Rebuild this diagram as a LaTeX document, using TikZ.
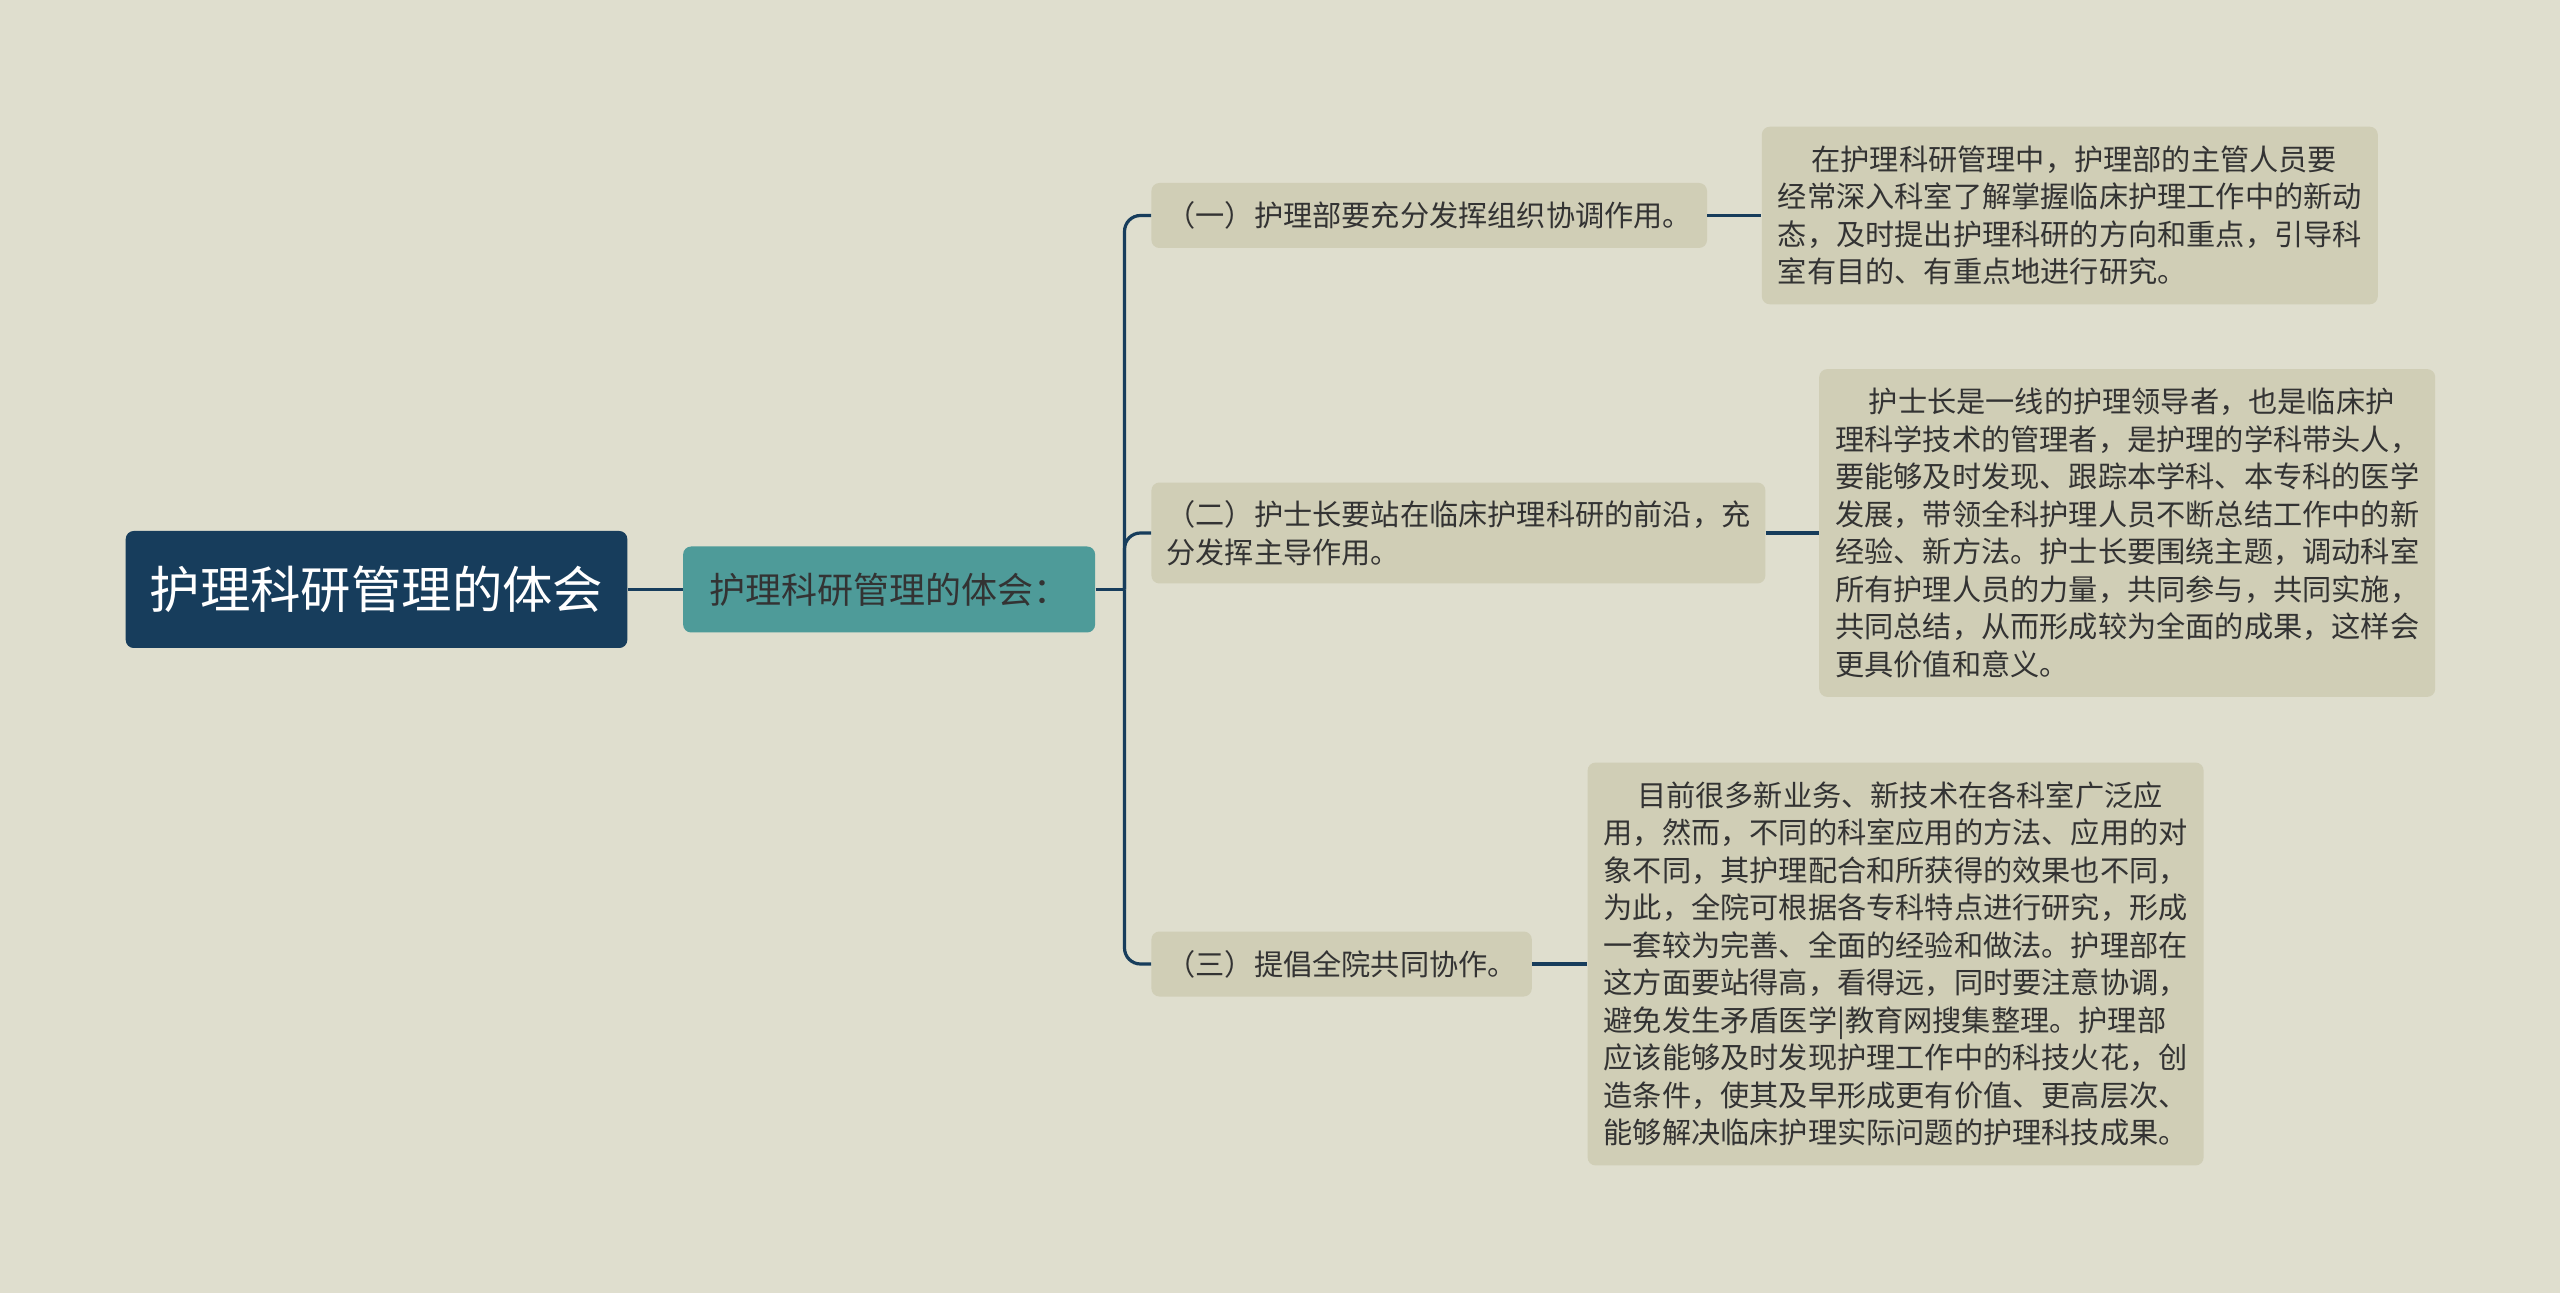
\documentclass[tikz,border=0pt]{standalone}
\usepackage{fontspec}
\setmainfont{Noto Sans CJK SC}
\usepackage{tikz}
\usetikzlibrary{positioning}

\definecolor{paper}{HTML}{DFDECE}
\definecolor{navy}{HTML}{173D5C}
\definecolor{teal2}{HTML}{4E9B99}
\definecolor{khaki}{HTML}{D0CEB6}
\definecolor{ink}{HTML}{333333}

\begin{document}
\begin{tikzpicture}[x=0.5pt,y=-0.5pt,node distance=27pt,
                    link/.style={draw=navy,line width=1.6pt},
                    topic/.style={fill=navy,text=white,rounded corners=4pt,
                      font=\fontsize{25.2pt}{30pt}\selectfont,
                      inner xsep=12pt,minimum height=58.5pt},
                    subtopic/.style={fill=teal2,text=ink,rounded corners=4pt,
                      font=\fontsize{18pt}{22pt}\selectfont,
                      inner xsep=13pt,minimum height=43pt},
                    point/.style={fill=khaki,text=ink,rounded corners=4pt,
                      font=\fontsize{14.6pt}{18.75pt}\selectfont,
                      inner xsep=7.5pt,inner ysep=9pt,minimum height=32.5pt,
                      align=left,anchor=west},
                    detail/.style={point,text width=292pt,inner xsep=8pt,
                      inner ysep=9.5pt}]
  \fill[paper] (0,0) rectangle (2560,1293);
  \useasboundingbox (0,0) rectangle (2560,1293);

  \node[topic]    (root) at (376.5,589.5) {护理科研管理的体会};
  \node[subtopic] (sub)  [right=27.5pt of root] {护理科研管理的体会：};

  \node[point] (p1) at (1151,215.5) {（一）护理部要充分发挥组织协调作用。};
  \node[point] (p2) at (1151,533)
    {（二）护士长要站在临床护理科研的前沿，充\\分发挥主导作用。};
  \node[point] (p3) at (1151,964) {（三）提倡全院共同协作。};

  \node[detail] (t1) [right=of p1]
    {\hspace*{1.15em}在护理科研管理中，护理部的主管人员要\\
     经常深入科室了解掌握临床护理工作中的新动\\
     态，及时提出护理科研的方向和重点，引导科\\
     室有目的、有重点地进行研究。};
  \node[detail] (t2) [right=26.5pt of p2]
    {\hspace*{1.15em}护士长是一线的护理领导者，也是临床护\\
     理科学技术的管理者，是护理的学科带头人，\\
     要能够及时发现、跟踪本学科、本专科的医学\\
     发展，带领全科护理人员不断总结工作中的新\\
     经验、新方法。护士长要围绕主题，调动科室\\
     所有护理人员的力量，共同参与，共同实施，\\
     共同总结，从而形成较为全面的成果，这样会\\
     更具价值和意义。};
  \node[detail] (t3) [right=27.5pt of p3]
    {\hspace*{1.15em}目前很多新业务、新技术在各科室广泛应\\
     用，然而，不同的科室应用的方法、应用的对\\
     象不同，其护理配合和所获得的效果也不同，\\
     为此，全院可根据各专科特点进行研究，形成\\
     一套较为完善、全面的经验和做法。护理部在\\
     这方面要站得高，看得远，同时要注意协调，\\
     避免发生矛盾医学|教育网搜集整理。护理部\\
     应该能够及时发现护理工作中的科技火花，创\\
     造条件，使其及早形成更有价值、更高层次、\\
     能够解决临床护理实际问题的护理科技成果。};

  \coordinate (trunk) at ([xshift=14.5pt]sub.east);

  \draw[link] (root.east) -- (sub.west);
  \draw[link] (sub.east) -- (trunk);
  \draw[link,rounded corners=8pt] (trunk) |- (p1.west);
  \draw[link,rounded corners=8pt] (trunk) |- (p2.west);
  \draw[link,rounded corners=8pt] (trunk) |- (p3.west);
  \draw[link] (p1.east) -- (t1.west);
  \draw[link] (p2.east) -- (t2.west);
  \draw[link] (p3.east) -- (t3.west);

\end{tikzpicture}
\end{document}
